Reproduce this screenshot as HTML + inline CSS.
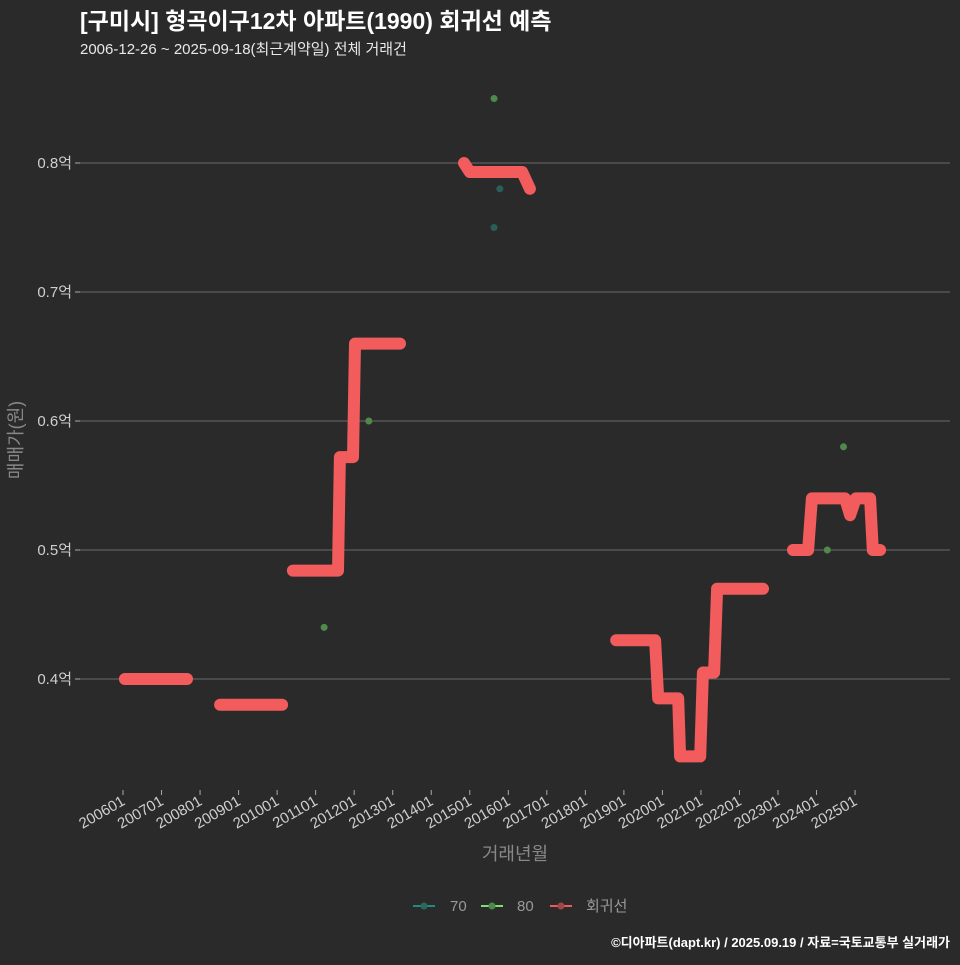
<!DOCTYPE html>
<html><head><meta charset="utf-8">
<style>
html,body{margin:0;padding:0;background:#2b2a2b;}
body{width:960px;height:960px;overflow:hidden;font-family:"Liberation Sans","Noto Sans CJK KR",sans-serif;}
</style></head>
<body>
<svg id="chart" width="960" height="960" xmlns="http://www.w3.org/2000/svg">
<rect width="960" height="960" fill="#2b2a2b"/>
<text x="80" y="29" fill="#ffffff" font-size="23" font-weight="bold" font-family="Liberation Sans, Noto Sans CJK KR, sans-serif">[구미시] 형곡이구12차 아파트(1990) 회귀선 예측</text>
<text x="80" y="54" fill="#e8e8e8" font-size="15" font-family="Liberation Sans, Noto Sans CJK KR, sans-serif">2006-12-26 ~ 2025-09-18(최근계약일) 전체 거래건</text>
<g id="grid"></g>
<g id="yticks"></g>
<g id="xticks"></g>
<g id="lines"></g>
<g id="points"></g>
<text x="22" y="440" fill="#888" font-size="18" transform="rotate(-90 22 440)" text-anchor="middle" font-family="Liberation Sans, Noto Sans CJK KR, sans-serif">매매가(원)</text>
<text x="515" y="860" fill="#888" font-size="18" text-anchor="middle" font-family="Liberation Sans, Noto Sans CJK KR, sans-serif">거래년월</text>
<g font-size="15" fill="#999" font-family="Liberation Sans, Noto Sans CJK KR, sans-serif">
 <g><line x1="413" y1="906" x2="435" y2="906" stroke="#1f8a8a" stroke-width="2"/><circle cx="424" cy="906" r="3.5" fill="#2a6a5a"/><text x="450" y="911">70</text></g>
 <g><line x1="481" y1="906" x2="503" y2="906" stroke="#7ee06a" stroke-width="2"/><circle cx="492" cy="906" r="3.5" fill="#4a8a4a"/><text x="517" y="911">80</text></g>
 <g><line x1="550" y1="906" x2="572" y2="906" stroke="#f05a5a" stroke-width="2"/><circle cx="561" cy="906" r="3.5" fill="#a04848"/><text x="586" y="911">회귀선</text></g>
</g>
<text x="950" y="947" fill="#ffffff" font-size="13" font-weight="bold" text-anchor="end" font-family="Liberation Sans, Noto Sans CJK KR, sans-serif">©디아파트(dapt.kr) / 2025.09.19 / 자료=국토교통부 실거래가</text>
</svg>
<script>
const yTickValues = [0.4, 0.5, 0.6, 0.7, 0.8];
const yTickLabels = ["0.4억", "0.5억", "0.6억", "0.7억", "0.8억"];
const xTickYears = [2006,2007,2008,2009,2010,2011,2012,2013,2014,2015,2016,2017,2018,2019,2020,2021,2022,2023,2024,2025];
const xTickLabels = ["200601","200701","200801","200901","201001","201101","201201","201301","201401","201501","201601","201701","201801","201901","202001","202101","202201","202301","202401","202501"];
// regression segments: dates (decimal year) and values (억)
const regDates = [
 [2006.05,2007.66],
 [2008.52,2010.13],
 [2010.41,2011.58,2011.63,2011.97,2012.02,2013.19],
 [2014.85,2015.0,2016.36,2016.56],
 [2018.8,2019.81,2019.89,2020.41,2020.46,2020.98,2021.05,2021.34,2021.42,2022.61],
 [2023.39,2023.78,2023.88,2024.74,2024.87,2025.02,2025.39,2025.46,2025.65]
];
const regValues = [
 [0.40,0.40],
 [0.38,0.38],
 [0.484,0.484,0.572,0.572,0.66,0.66],
 [0.80,0.793,0.793,0.78],
 [0.43,0.43,0.385,0.385,0.34,0.34,0.405,0.405,0.47,0.47],
 [0.50,0.50,0.54,0.54,0.527,0.54,0.54,0.50,0.50]
];
const ptDates = [2015.63,2015.78,2015.63,2012.38,2011.22,2024.28,2024.7];
const ptValues = [0.85,0.78,0.75,0.60,0.44,0.50,0.58];
const ptGroups = ["80","70","70","80","80","80","80"];

const NS="http://www.w3.org/2000/svg";
function xs(d){return 123 + (d-2006)*38.53;}
function ys(v){return 679 - (v-0.4)*1290;}
function mk(tag,attrs,parent){const e=document.createElementNS(NS,tag);for(const k in attrs)e.setAttribute(k,attrs[k]);parent.appendChild(e);return e;}
const grid=document.getElementById('grid'),yt=document.getElementById('yticks'),xt=document.getElementById('xticks'),ln=document.getElementById('lines'),pt=document.getElementById('points');
yTickValues.forEach((v,i)=>{
 const g=mk('line',{x1:80,x2:950,y1:ys(v),y2:ys(v),stroke:'#6a6a6a','stroke-width':1},grid);
 
 
 mk('line',{x1:75,x2:80,y1:ys(v),y2:ys(v),stroke:'#aaa'},yt);
 const t=mk('text',{x:72,y:ys(v)+5,fill:'#cfcfcf','font-size':15,'text-anchor':'end'},yt);
 t.textContent=yTickLabels[i];
 
 
});
xTickYears.forEach((d,i)=>{
 const x=xs(d);
 mk('line',{x1:x,x2:x,y1:790,y2:795,stroke:'#aaa'},xt);
 const t=mk('text',{x:x+3,y:804,fill:'#cfcfcf','font-size':15,'text-anchor':'end',transform:`rotate(-30 ${x+3} 804)`},xt);
 t.textContent=xTickLabels[i];
 
 
});
regDates.forEach((ds,i)=>{
 const p=ds.map((d,j)=>xs(d).toFixed(1)+','+ys(regValues[i][j]).toFixed(1)).join(' ');
 const l=mk('polyline',{points:p,fill:'none',stroke:'#f25c5c','stroke-width':12,'stroke-linejoin':'round','stroke-linecap':'round'},ln);
 
 
});
ptDates.forEach((d,i)=>{
 const c=mk('circle',{cx:xs(d),cy:ys(ptValues[i]),r:3.5,fill:ptGroups[i]==='70'?'#2a5f55':'#4f8a4a'},pt);
 
 
});
</script>
</body></html>
